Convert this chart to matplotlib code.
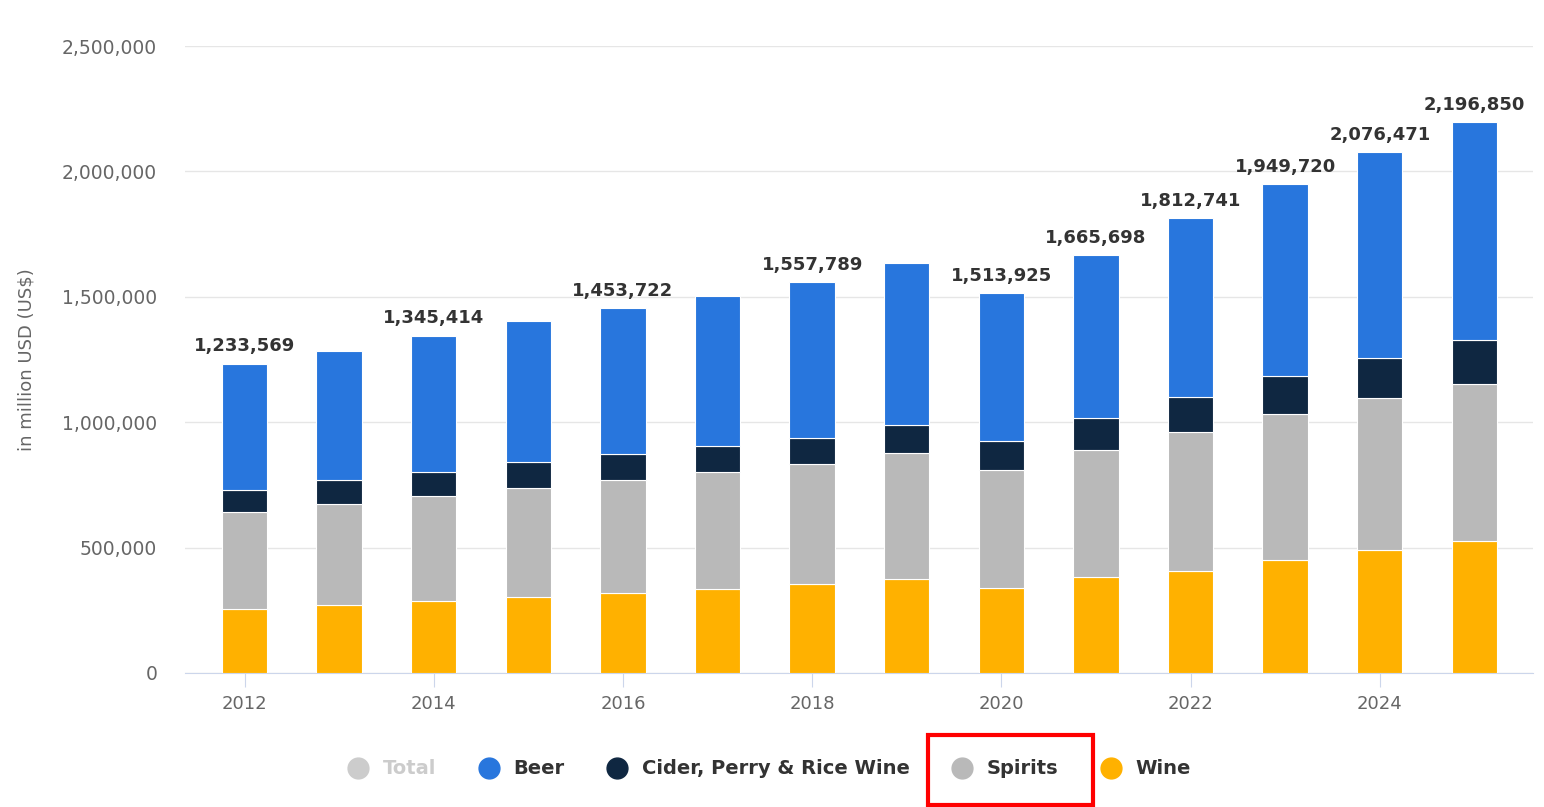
import matplotlib
matplotlib.use("Agg")
import matplotlib.pyplot as plt
from matplotlib.lines import Line2D
from matplotlib.patches import Rectangle
from matplotlib.ticker import FuncFormatter
import numpy as np

# data (million USD)
years = [2012, 2013, 2014, 2015, 2016, 2017, 2018, 2019, 2020, 2021, 2022, 2023, 2024, 2025]
wine = [256000, 272000, 288000, 303000, 319000, 333000, 355000, 376000, 339000, 382000, 407000, 451000, 491000, 525000]
spirits = [386000, 400000, 417000, 434000, 451000, 468000, 479000, 501000, 471000, 509000, 554000, 583000, 605000, 627000]
cider = [89000, 98000, 96000, 106000, 104000, 104000, 103000, 110000, 117000, 127000, 140000, 151000, 160000, 175000]
beer = [502569, 515000, 544414, 559000, 579722, 600000, 620789, 646000, 586925, 647698, 711741, 764720, 820471, 869850]
total_labels = ["1,233,569", None, "1,345,414", None, "1,453,722", None, "1,557,789", None,
                "1,513,925", "1,665,698", "1,812,741", "1,949,720", "2,076,471", "2,196,850"]

series = [("Wine", wine, "#ffb100"),
          ("Spirits", spirits, "#b9b9b9"),
          ("Cider, Perry & Rice Wine", cider, "#0f2741"),
          ("Beer", beer, "#2876dd")]

fig = plt.figure(figsize=(15.44, 8.07), dpi=100)
ax = fig.add_axes([185/1544, 1-673/807, (1533-185)/1544, (673-46)/807])

bottom = np.zeros(len(years))
for name, vals, col in series:
    ax.bar(years, vals, width=0.48, bottom=bottom, color=col,
           edgecolor="white", linewidth=0.8, zorder=3)
    bottom += np.array(vals)

for x, top, lab in zip(years, bottom, total_labels):
    if lab:
        ax.annotate(lab, (x, top), xytext=(0, 6), textcoords="offset points",
                    ha="center", va="bottom", fontsize=13, fontweight="bold",
                    color="#333333", zorder=4)

ax.set_ylim(0, 2500000)
ax.set_xlim(2011.37, 2025.62)
ax.set_yticks(np.arange(0, 2500001, 500000))
ax.yaxis.set_major_formatter(FuncFormatter(lambda v, p: f"{int(v):,}"))
ax.set_xticks(years[::2])
ax.grid(axis="y", color="#e6e6e6", linewidth=1, zorder=0)
for s in ["top", "right", "left"]:
    ax.spines[s].set_visible(False)
ax.spines["bottom"].set_color("#ccd6eb")
ax.tick_params(axis="y", length=0, pad=20, labelsize=13.5, labelcolor="#666666")
ax.tick_params(axis="x", length=10, color="#ccd6eb", pad=6, labelsize=13, labelcolor="#666666")
ax.set_ylabel("in million USD (US$)", fontsize=13, color="#666666", labelpad=19)

# legend
handles = [Line2D([], [], marker="o", linestyle="none", markersize=15, color="#cccccc")]
labels = ["Total"]
for name, vals, col in [series[3], series[2], series[1], series[0]]:
    handles.append(Line2D([], [], marker="o", linestyle="none", markersize=15, color=col))
    labels.append(name)
leg = fig.legend(handles, labels, loc="center", bbox_to_anchor=(765/1544, 1-769/807),
                 ncol=5, frameon=False, handletextpad=0.25, columnspacing=1.72,
                 prop={"size": 14, "weight": "bold"})
for t in leg.get_texts():
    t.set_color("#333333")
leg.get_texts()[0].set_color("#cccccc")

fig.add_artist(Rectangle((928/1544, 1-805/807), (1093-928)/1544, (805-735)/807,
                         transform=fig.transFigure, fill=False, edgecolor="#ff0000", linewidth=3))

fig.savefig("out.png", dpi=100)
